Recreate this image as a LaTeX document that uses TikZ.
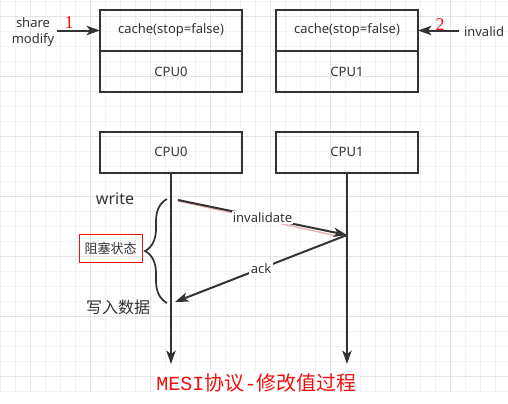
\documentclass[tikz,border=0pt]{standalone}
\usepackage{fontspec}
\setmainfont{Noto Sans}
\newfontfamily\cjk{Noto Sans CJK SC}
\newfontfamily\monofont{Liberation Mono}
\newfontfamily\numfont{Liberation Serif}
\usetikzlibrary{arrows,arrows.meta,shapes,positioning,decorations.pathreplacing,calc}
\definecolor{linegray}{HTML}{333333}
\definecolor{textgray}{HTML}{333333}
\definecolor{gridminor}{HTML}{F2F2F2}
\definecolor{gridmajor}{HTML}{E4E4E4}
\definecolor{markred}{HTML}{F01010}
\definecolor{shadowpink}{HTML}{E8B0B0}
\tikzset{
  box/.style={draw=linegray, line width=1.5pt, minimum width=106.5pt, minimum height=30.75pt,
    inner sep=0pt, outer sep=0pt, text=textgray, font=\fontsize{9.75}{12}\selectfont},
  lbl/.style={text=textgray, font=\fontsize{9.75}{12}\selectfont},
  biglbl/.style={text=textgray, font=\fontsize{12}{14}\selectfont},
  num/.style={text=markred, font=\numfont\fontsize{13.5}{14}\selectfont},
  arr/.style={draw=linegray, line width=1.5pt, -{Stealth[length=10pt,width=7pt,inset=2.5pt]}},
  brace/.style={draw=linegray, line width=1.3pt, decorate, decoration={brace, amplitude=16.5pt}},
}
\begin{document}
\begin{tikzpicture}[x=0.75pt,y=-0.75pt]
  \useasboundingbox (0,0) rectangle (508,404);
  \fill[white] (0,0) rectangle (508,404);
  % background grid
  \foreach \x in {0,15,...,505} \draw[gridminor, line width=0.75pt] (\x,0) -- (\x,391.7);
  \foreach \y in {1.7,16.7,...,392} \draw[gridminor, line width=0.75pt] (0,\y) -- (508,\y);
  \foreach \x in {30,90,...,450} \draw[gridmajor, line width=0.75pt] (\x,0) -- (\x,391.7);
  \foreach \y in {16.7,76.7,...,377} \draw[gridmajor, line width=0.75pt] (0,\y) -- (508,\y);

  % caches
  \node[box] (cache0) at (171,30.5) {cache(stop=false)};
  \node[box, below=0pt of cache0] (cpu0) {CPU0};
  \node[box, right=25.5pt of cache0] (cache1) {cache(stop=false)};
  \node[box, below=0pt of cache1] (cpu1) {CPU1};

  \node[lbl, align=center] (share) at (33,32) {share\\modify};
  \coordinate (in0) at (57,30.5);
  \draw[arr] (in0) -- (cache0.west);
  \node[num] (one) at (69,23) {1};
  \node[lbl] (invalid) at (484,32) {invalid};
  \draw[arr] (invalid.west |- cache1.east) -- (cache1.east);
  \node[num] (two) at (440,25) {2};

  % time lines
  \node[box] (life0) at (171,152.2) {CPU0};
  \node[box, right=25.5pt of life0] (life1) {CPU1};
  \coordinate (end0) at (171,364);
  \coordinate (end1) at (347,364);
  \draw[arr] (life0.south) -- (end0);
  \draw[arr] (life1.south) -- (end1);

  \node[biglbl] (write) at (115,199) {write};
  \node[biglbl, font=\cjk\fontsize{12}{14}\selectfont] (done) at (118,307) {写入数据};
  \node[lbl, draw=markred, line width=0.75pt, minimum width=47.25pt, minimum height=21pt,
    inner sep=0pt, font=\cjk\fontsize{9.75}{12}\selectfont] (block) at (110.5,248) {阻塞状态};
  \coordinate (btop) at (167,199);
  \coordinate (bbot) at (167,303);
  \draw[brace] (bbot) -- (btop);

  \coordinate (w0) at (178,200);
  \coordinate (hit1) at (347,235);
  \coordinate (ack0) at (175,302);
  \draw[shadowpink, line width=1pt] ($(w0)+(0,1)$) -- ($(hit1)+(-10,1)$);
  \draw[arr] (w0) -- node[lbl, fill=white, inner sep=1pt] (invlbl) {invalidate} (hit1);
  \draw[arr] (hit1) -- node[lbl, fill=white, inner sep=1pt] (acklbl) {ack} (ack0);

  \node[text=markred, fill=white, inner sep=2pt, font=\fontsize{15}{16}\selectfont] (title) at (256.5,383)
    {{\monofont MESI}{\cjk 协议}{\monofont -}{\cjk 修改值过程}};
\end{tikzpicture}
\end{document}
